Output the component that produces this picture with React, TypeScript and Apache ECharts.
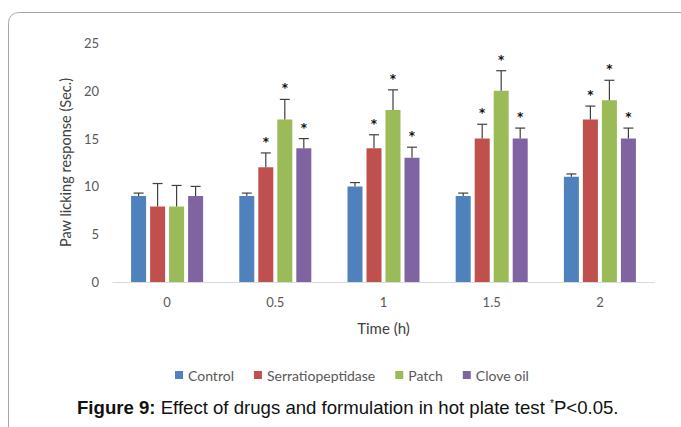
import React, { useEffect, useRef } from "react";
import * as echarts from "echarts";

const categories = ["0", "0.5", "1", "1.5", "2"];
const seriesNames = ["Control", "Serratiopeptidase", "Patch", "Clove oil"];
const colors = ["#4F81BD", "#C0504D", "#9BBB59", "#8064A2"];
const controlValues = [9, 9, 10, 9, 11];
const serratioValues = [7.9, 12, 14, 15, 17];
const patchValues = [7.9, 17, 18, 20, 19];
const cloveValues = [9, 14, 13, 15, 15];
const controlErrTop = [9.3, 9.3, 10.4, 9.3, 11.3];
const serratioErrTop = [10.3, 13.5, 15.4, 16.5, 18.4];
const patchErrTop = [10.1, 19.1, 20.1, 22.1, 21.1];
const cloveErrTop = [10.0, 15.0, 14.1, 16.1, 16.1];
const controlStar = [false, false, false, false, false];
const serratioStar = [false, true, true, true, true];
const patchStar = [false, true, true, true, true];
const cloveStar = [false, true, true, true, true];

const values = [controlValues, serratioValues, patchValues, cloveValues];
const errTops = [controlErrTop, serratioErrTop, patchErrTop, cloveErrTop];
const stars = [controlStar, serratioStar, patchStar, cloveStar];

const BAR_W = 15;
const GAP = 4;
const FONT = "Lato, 'Open Sans', sans-serif";
const CAPTION_FONT = "'Liberation Sans', Arial, sans-serif";

export default function App() {
  const ref = useRef<HTMLDivElement>(null);
  useEffect(() => {
    if (!ref.current) return;
    const chart = echarts.init(ref.current, undefined, { renderer: "svg" });
    const barSeries = seriesNames.map((name, i) => ({
      name,
      type: "bar",
      data: values[i],
      barWidth: BAR_W,
      barGap: ((GAP / BAR_W) * 100).toFixed(1) + "%",
      itemStyle: { color: colors[i] },
    }));
    const errSeries = seriesNames.map((name, i) => ({
      name: name + "_err",
      type: "custom",
      clip: false,
      z: 5,
      data: categories.map((_, k) => [k, values[i][k], errTops[i][k], stars[i][k] ? 1 : 0]),
      encode: { x: 0, y: [1, 2] },
      renderItem: (params: any, api: any) => {
        const k = api.value(0);
        const b = api.coord([k, api.value(1)]);
        const t = api.coord([k, api.value(2)]);
        const x = b[0] + (i - 1.5) * (BAR_W + GAP);
        const children: any[] = [
          { type: "line", shape: { x1: x, y1: b[1], x2: x, y2: t[1] }, style: { stroke: "#404040", lineWidth: 1.2 } },
          { type: "line", shape: { x1: x - 5, y1: t[1], x2: x + 5, y2: t[1] }, style: { stroke: "#404040", lineWidth: 1.2 } },
        ];
        if (api.value(3)) {
          children.push({
            type: "text",
            style: {
              text: "*",
              x,
              y: t[1] - 11,
              align: "center",
              verticalAlign: "middle",
              fontSize: 12,
              fontWeight: "bold",
              fontFamily: "'DejaVu Sans', sans-serif",
              fill: "#111",
            },
          });
        }
        return { type: "group", children };
      },
    }));
    chart.setOption({
      animation: false,
      textStyle: { fontFamily: FONT },
      grid: { left: 113, right: 27, top: 43, bottom: 145 },
      legend: {
        data: seriesNames,
        bottom: 40,
        left: 170,
        itemWidth: 8,
        itemHeight: 8,
        itemGap: 20,
        icon: "rect",
        textStyle: { color: "#595959", fontSize: 14, fontFamily: FONT },
      },
      xAxis: {
        type: "category",
        data: categories,
        name: "Time (h)",
        nameLocation: "middle",
        nameGap: 38,
        nameTextStyle: { color: "#404040", fontSize: 15, fontFamily: FONT },
        axisLine: { lineStyle: { color: "#d9d9d9" } },
        axisTick: { show: false },
        axisLabel: { color: "#595959", fontSize: 13, margin: 13 },
      },
      yAxis: {
        type: "value",
        min: 0,
        max: 25,
        interval: 5,
        name: "Paw licking response (Sec.)",
        nameLocation: "middle",
        nameGap: 40,
        nameRotate: 90,
        nameTextStyle: { color: "#404040", fontSize: 14.5, fontFamily: FONT },
        splitLine: { show: false },
        axisLine: { show: false },
        axisTick: { show: false },
        axisLabel: { color: "#595959", fontSize: 13, margin: 14 },
      },
      graphic: [
        {
          type: "rect",
          shape: { x: 8.5, y: 12.5, width: 720, height: 460, r: 10 },
          style: { fill: "none", stroke: "#a6a6a6", lineWidth: 1 },
          silent: true,
        },
        {
          type: "text",
          left: 77,
          top: 398,
          style: {
            text: "{b|Figure 9:} Effect of drugs and formulation in hot plate test {s|*}P<0.05.",
            rich: {
              b: { fontWeight: "bold", fontSize: 18.6, fontFamily: CAPTION_FONT, fill: "#111" },
              s: { fontSize: 10, fontFamily: CAPTION_FONT, fill: "#111", verticalAlign: "top", padding: [0, 0, 9, 0] },
            },
            fontSize: 18.6,
            fontFamily: CAPTION_FONT,
            fill: "#111",
          },
        },
      ],
      series: [...barSeries, ...errSeries],
    });
    return () => chart.dispose();
  }, []);
  return (
    <div
      ref={ref}
      style={{ position: "fixed", left: 0, top: 0, width: 681, height: 427, background: "#fff" }}
    />
  );
}
